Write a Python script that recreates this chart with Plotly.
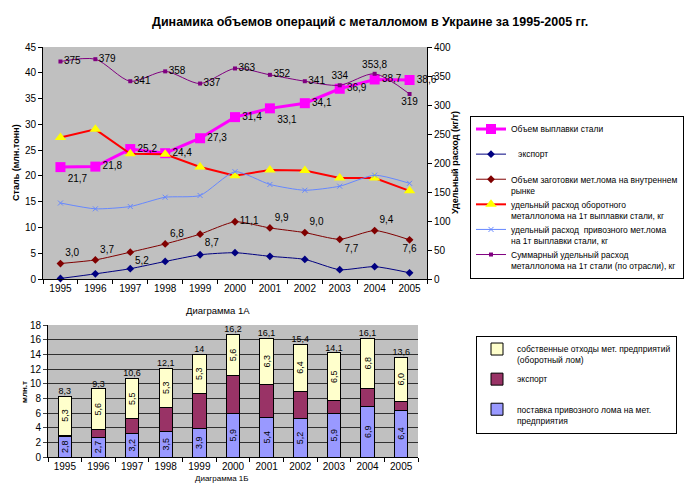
import plotly.graph_objects as go

# ---------------- data ----------------
years = ["1995", "1996", "1997", "1998", "1999", "2000", "2001", "2002", "2003", "2004", "2005"]

# Diagram 1A (top)
steel = [21.7, 21.8, 25.2, 24.4, 27.3, 31.4, 33.1, 34.1, 36.9, 38.7, 38.6]          # mln t, left axis
export_t = [0.1, 1.0, 2.0, 3.4, 4.7, 5.1, 4.4, 3.8, 1.8, 2.4, 1.2]                  # mln t, left axis
domestic = [3.0, 3.7, 5.2, 6.8, 8.7, 11.1, 9.9, 9.0, 7.7, 9.4, 7.6]                 # mln t, left axis
own_rate = [244, 258, 216, 215, 193, 178, 188, 187, 174, 174, 152]                  # kg/t, right axis
import_rate = [131, 121, 125, 141, 144, 185, 163, 153, 160, 179, 165]               # kg/t, right axis
total_rate = [375, 379, 341, 358, 337, 363, 352, 341, 334, 353.8, 319]              # kg/t, right axis

# Diagram 1B (bottom, stacked)
bar_import = [2.8, 2.7, 3.2, 3.5, 3.9, 5.9, 5.4, 5.2, 5.9, 6.9, 6.4]
bar_export = [0.2, 1.0, 2.0, 3.3, 4.8, 5.2, 4.5, 3.8, 1.8, 2.5, 1.2]
bar_own = [5.3, 5.6, 5.5, 5.3, 5.3, 5.6, 6.3, 6.4, 6.5, 6.8, 6.0]
bar_totals = [8.3, 9.3, 10.6, 12.1, 14, 16.2, 16.1, 15.4, 14.1, 16.1, 13.6]


def fmt1(v):
    return f"{v:.1f}".replace(".", ",")


def fmt_auto(v):
    if float(v).is_integer():
        return str(int(v))
    return fmt1(v)


FONT = "Arial, 'Liberation Sans', sans-serif"
GRAY = "#C0C0C0"

fig = go.Figure()

# ---------------- top chart traces ----------------
fig.add_trace(go.Scatter(
    x=years, y=steel, name="Объем выплавки стали<br>\u00a0",
    mode="lines+markers+text", text=[fmt1(v) for v in steel],
    textposition=["bottom right", "middle right", "middle right", "middle right", "middle right",
                  "middle right", "bottom right", "middle right", "middle right", "middle right",
                  "middle right"],
    textfont=dict(size=10, color="black"), cliponaxis=False,
    line=dict(color="#FF00FF", width=3),
    marker=dict(symbol="square", size=10, color="#FF00FF"),
    xaxis="x", yaxis="y", legend="legend", legendgroup="a1"))

fig.add_trace(go.Scatter(
    x=years, y=export_t, name="   экспорт<br>\u00a0",
    mode="lines+markers", line=dict(color="#000080", width=1, shape="spline", smoothing=0.6),
    marker=dict(symbol="diamond", size=6, color="#000080"), cliponaxis=False,
    xaxis="x", yaxis="y", legend="legend", legendgroup="a2"))

fig.add_trace(go.Scatter(
    x=years, y=domestic, name="Объем заготовки мет.лома на внутреннем<br>рынке",
    mode="lines+markers+text", text=[fmt1(v) for v in domestic],
    textposition=["top right", "top right", "bottom right", "top right", "bottom right",
                  "middle right", "top right", "top right", "bottom right", "top right",
                  "bottom center"],
    textfont=dict(size=10, color="black"), cliponaxis=False,
    line=dict(color="#800000", width=1, shape="spline", smoothing=0.6),
    marker=dict(symbol="diamond", size=6, color="#800000"),
    xaxis="x", yaxis="y", legend="legend", legendgroup="a3"))

fig.add_trace(go.Scatter(
    x=years, y=own_rate, name="удельный расход оборотного<br>металлолома на 1т выплавки стали, кг",
    mode="lines+markers", line=dict(color="#FF0000", width=2),
    marker=dict(symbol="triangle-up", size=10, color="#FFFF00"), cliponaxis=False,
    xaxis="x", yaxis="y2", legend="legend", legendgroup="a4"))

fig.add_trace(go.Scatter(
    x=years, y=import_rate, name="удельный расход  привозного мет.лома<br>на 1т выплавки стали, кг",
    mode="lines+markers", line=dict(color="#6688FF", width=1, shape="spline", smoothing=0.6),
    marker=dict(symbol="x-thin", size=5, color="#6688FF", line=dict(color="#6688FF", width=1)),
    cliponaxis=False,
    xaxis="x", yaxis="y2", legend="legend", legendgroup="a5"))

fig.add_trace(go.Scatter(
    x=years, y=total_rate, name="Суммарный удельный расход<br>металлолома на 1т стали (по отрасли), кг",
    mode="lines+markers+text", text=[fmt_auto(v) for v in total_rate],
    textposition=["middle right"] * 8 + ["top center", "top center", "bottom center"],
    textfont=dict(size=10, color="black"), cliponaxis=False,
    line=dict(color="#800080", width=1, shape="spline", smoothing=0.8),
    marker=dict(symbol="square", size=4, color="#800080"),
    xaxis="x", yaxis="y2", legend="legend", legendgroup="a6"))

# ---------------- bottom chart traces ----------------
fig.add_trace(go.Bar(
    x=years, y=bar_import, name="поставка привозного лома на мет.<br>предприятия",
    marker=dict(color="#9999FF", line=dict(color="black", width=1)),
    text=[fmt1(v) for v in bar_import], textposition="inside", insidetextanchor="middle",
    textangle=-90, textfont=dict(size=9, color="black"),
    xaxis="x2", yaxis="y3", legend="legend2", legendgroup="b1", legendrank=3, width=0.4))
fig.add_trace(go.Bar(
    x=years, y=bar_export, name="экспорт<br>\u00a0",
    marker=dict(color="#993366", line=dict(color="black", width=1)),
    xaxis="x2", yaxis="y3", legend="legend2", legendgroup="b2", legendrank=2, width=0.4))
fig.add_trace(go.Bar(
    x=years, y=bar_own, name="собственные отходы мет. предприятий<br>(оборотный лом)",
    marker=dict(color="#FFFFCC", line=dict(color="black", width=1)),
    text=[fmt1(v) for v in bar_own], textposition="inside", insidetextanchor="middle",
    textangle=-90, textfont=dict(size=9, color="black"),
    xaxis="x2", yaxis="y3", legend="legend2", legendgroup="b3", legendrank=1, width=0.4))

stack_top = [a + b + c for a, b, c in zip(bar_import, bar_export, bar_own)]
fig.add_trace(go.Scatter(
    x=years, y=stack_top, mode="text", text=[fmt_auto(v) for v in bar_totals],
    textposition="top center", textfont=dict(size=9, color="black"), cliponaxis=False,
    showlegend=False, hoverinfo="skip", xaxis="x2", yaxis="y3"))

# ---------------- layout ----------------
axis_common = dict(showline=True, linecolor="black", linewidth=1, ticks="outside",
                   ticklen=4, tickcolor="black", tickfont=dict(size=10, color="black"),
                   showgrid=False, zeroline=False, automargin=False)

fig.update_layout(
    width=700, height=490,
    margin=dict(l=0, r=0, t=0, b=0, autoexpand=False),
    paper_bgcolor="white", plot_bgcolor=GRAY,
    font=dict(family=FONT, color="black"),
    barmode="stack",
    uniformtext=dict(minsize=9, mode="show"),
    xaxis=dict(domain=[43 / 700, 427 / 700], anchor="y", type="category",
               range=[-0.5, 10.5], tickson="boundaries", **axis_common),
    yaxis=dict(domain=[1 - 279 / 490, 1 - 47 / 490], anchor="x", range=[0, 45], dtick=5,
               **axis_common),
    yaxis2=dict(overlaying="y", side="right", anchor="x", range=[0, 400], dtick=50,
                **axis_common),
    xaxis2=dict(domain=[48 / 700, 418 / 700], anchor="y3", type="category",
                range=[-0.5, 10.5], tickson="boundaries", **axis_common),
    yaxis3=dict(domain=[1 - 457 / 490, 1 - 325 / 490], anchor="x2", range=[0, 18], dtick=2,
                showline=True, linecolor="black", ticks="outside", ticklen=4,
                tickfont=dict(size=10, color="black"), showgrid=True, gridcolor="#303030",
                gridwidth=1, zeroline=False, automargin=False),
    legend=dict(x=470 / 700, y=1 - 116 / 490, xanchor="left", yanchor="top",
                bgcolor="white", bordercolor="black", borderwidth=1,
                font=dict(size=8.5, color="black"), traceorder="grouped",
                tracegroupgap=0, valign="top"),
    legend2=dict(x=476 / 700, y=1 - 336 / 490, xanchor="left", yanchor="top",
                 bgcolor="white", bordercolor="black", borderwidth=1,
                 font=dict(size=8.5, color="black"), traceorder="grouped",
                 tracegroupgap=5, valign="top"),
    showlegend=True,
)

annotations = [
    dict(text="<b>Динамика объемов операций с металломом в Украине за 1995-2005 гг.</b>",
         x=370 / 700, y=1 - 22 / 490, font=dict(size=12.5)),
    dict(text="<b>Сталь (млн.тонн)</b>", x=16 / 700, y=1 - 163 / 490, textangle=-90,
         font=dict(size=9)),
    dict(text="<b>Удельный расход (кг/т)</b>", x=455 / 700, y=1 - 163 / 490, textangle=-90,
         font=dict(size=9)),
    dict(text="Диаграмма 1А", x=218 / 700, y=1 - 310 / 490, font=dict(size=9.5)),
    dict(text="<b>млн.т</b>", x=24 / 700, y=1 - 392 / 490, textangle=-90, font=dict(size=8)),
    dict(text="Диаграмма 1Б", x=222 / 700, y=1 - 478 / 490, font=dict(size=8)),
]
for a in annotations:
    a.update(xref="paper", yref="paper", showarrow=False, xanchor="center", yanchor="middle")
fig.update_layout(annotations=annotations)

fig.write_html("out.html", config={"displayModeBar": False},
               post_script="document.body.style.margin='0';document.body.style.padding='0';")
